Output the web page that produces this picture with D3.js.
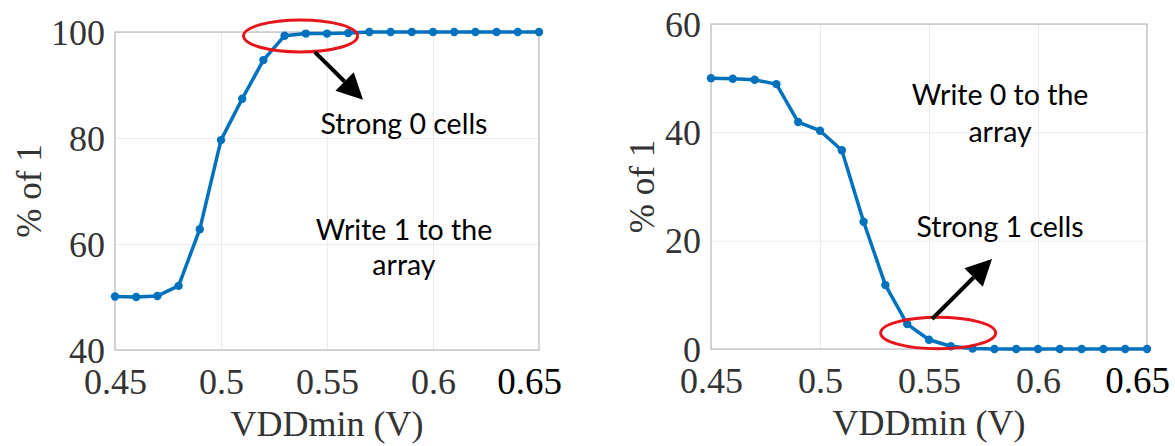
<!DOCTYPE html>
<html>
<head>
<meta charset="utf-8">
<script src="https://cdn.jsdelivr.net/npm/d3@7"></script>
<style>
   body { margin: 0; background: #fff; }
   svg { display: block; }
</style>
</head>
<body>
<svg id="chart" width="1175" height="446"></svg>
<script>

// VALUES
var vdd = [0.45, 0.46, 0.47, 0.48, 0.49, 0.50, 0.51, 0.52, 0.53, 0.54, 0.55,
           0.56, 0.57, 0.58, 0.59, 0.60, 0.61, 0.62, 0.63, 0.64, 0.65];
var write1Pct = [50.1, 50.0, 50.2, 52.1, 62.8, 79.6, 87.4, 94.7, 99.3, 99.7, 99.7,
                 99.8, 100, 100, 100, 100, 100, 100, 100, 100, 100];
var write0Pct = [50.0, 49.9, 49.7, 48.9, 41.9, 40.3, 36.7, 23.5, 11.8, 4.6, 1.7,
                 0.5, 0.1, 0, 0, 0, 0, 0, 0, 0, 0];
var xTicks = [0.45, 0.5, 0.55, 0.6, 0.65];
var xTickLabels = ['0.45', '0.5', '0.55', '0.6', '0.65'];
var write1YTicks = [40, 60, 80, 100];
var write0YTicks = [0, 20, 40, 60];
var xLabel = 'VDDmin (V)';
var yLabel = '% of 1';

// SHARED LOOK
var look = {
   blue: '#0072bd',
   red: '#e8141b',
   grid: '#ebebeb',
   box: '#bcbcbc',
   tickText: '#333',
   serif: '"Liberation Serif", "Times New Roman", serif',
   sans: 'Lato, "Open Sans", sans-serif'
}

// DRAW ONE PANEL
function panel(svg, values, settings) {

   var width = settings.right - settings.left;
   var height = settings.bottom - settings.top;

   // X-SCALING
   var xScale = d3.scaleLinear()
      .domain([0.45, 0.65])
      .range([0, width])

   // Y-SCALING
   var yScale = d3.scaleLinear()
      .domain(settings.yDomain)
      .range([height, 0])

   var g = svg.append('g')
      .attr('transform', 'translate(' + settings.left + ',' + settings.top + ')')

   // GRID
   g.append('g')
      .attr('transform', 'translate(0,' + height + ')')
      .call(d3.axisBottom(xScale).tickValues(xTicks).tickSize(-height).tickFormat(''))
      .call(a => a.select('.domain').remove())
      .selectAll('line').attr('stroke', look.grid)

   g.append('g')
      .call(d3.axisLeft(yScale).tickValues(settings.yTicks).tickSize(-width).tickFormat(''))
      .call(a => a.select('.domain').remove())
      .selectAll('line').attr('stroke', look.grid)

   // BOX
   g.append('rect')
      .attr('width', width)
      .attr('height', height)
      .attr('fill', 'none')
      .attr('stroke', look.box)
      .attr('stroke-width', 1.2)

   // X TICK LABELS
   var xAxis = g.append('g')
      .attr('transform', 'translate(0,' + height + ')')
      .call(d3.axisBottom(xScale).tickValues(xTicks).tickSize(0).tickPadding(0)
         .tickFormat((d, i) => xTickLabels[i]))
   xAxis.select('.domain').remove()
   xAxis.selectAll('text')
      .attr('y', 44).attr('dy', 0)
      .attr('font-family', look.serif)
      .attr('font-size', 36)
      .attr('fill', look.tickText)
   xAxis.selectAll('text').filter((d, i) => i === xTicks.length - 1)
      .attr('fill', '#000')
      .attr('font-size', 37)
      .attr('dx', -10)

   // Y TICK LABELS
   var yAxis = g.append('g')
      .call(d3.axisLeft(yScale).tickValues(settings.yTicks).tickSize(0).tickPadding(10))
   yAxis.select('.domain').remove()
   yAxis.selectAll('text')
      .attr('dy', '0.34em')
      .attr('font-family', look.serif)
      .attr('font-size', 36)
      .attr('fill', look.tickText)

   // AXIS TITLES
   g.append('text')
      .attr('x', width / 2)
      .attr('y', height + 86)
      .attr('text-anchor', 'middle')
      .attr('font-family', look.serif)
      .attr('font-size', 36)
      .attr('fill', look.tickText)
      .text(xLabel)

   g.append('text')
      .attr('transform', 'translate(' + settings.yLabelX + ',' + height / 2 + ') rotate(-90)')
      .attr('text-anchor', 'middle')
      .attr('font-family', look.serif)
      .attr('font-size', 35)
      .attr('fill', look.tickText)
      .text(yLabel)

   // LINE
   var pathify = d3.line()
      .x((d, i) => xScale(vdd[i]))
      .y((d) => yScale(d))

   g.append('path')
      .attr('fill', 'none')
      .attr('stroke', look.blue)
      .attr('stroke-width', 3.5)
      .attr('stroke-linejoin', 'round')
      .attr('d', pathify(values))

   // DOTS
   g.selectAll('circle.dot')
      .data(values)
         .enter().append('circle')
            .attr('class', 'dot')
            .attr('cx', (d, i) => xScale(vdd[i]))
            .attr('cy', (d) => yScale(d))
            .attr('r', 4.2)
            .attr('fill', look.blue)

   // NOTES
   settings.notes.forEach(n => {
      g.append('text')
         .attr('x', xScale(n.x))
         .attr('y', yScale(n.y))
         .attr('text-anchor', 'middle')
         .attr('font-family', look.sans)
         .attr('font-size', 28.5)
         .attr('fill', '#000')
         .text(n.text)
   })

   // ELLIPSE
   var e = settings.ellipse;
   g.append('ellipse')
      .attr('cx', xScale(e.x))
      .attr('cy', yScale(e.y))
      .attr('rx', e.rx)
      .attr('ry', e.ry)
      .attr('fill', 'none')
      .attr('stroke', look.red)
      .attr('stroke-width', 3)

   // ARROW
   var a = settings.arrow;
   var x0 = xScale(a.from[0]), y0 = yScale(a.from[1]);
   var x1 = xScale(a.to[0]), y1 = yScale(a.to[1]);
   var ang = Math.atan2(y1 - y0, x1 - x0);
   var headLen = 26, headHalf = 13;
   var bx = x1 - headLen * Math.cos(ang), by = y1 - headLen * Math.sin(ang);
   g.append('line')
      .attr('x1', x0).attr('y1', y0)
      .attr('x2', bx).attr('y2', by)
      .attr('stroke', '#000')
      .attr('stroke-width', 4)
   g.append('polygon')
      .attr('points', [
         [x1, y1],
         [bx + headHalf * Math.sin(ang), by - headHalf * Math.cos(ang)],
         [bx - headHalf * Math.sin(ang), by + headHalf * Math.cos(ang)]
      ].map(p => p.join(',')).join(' '))
      .attr('fill', '#000')
}

var svg = d3.select('#chart');

// LEFT PANEL -- WRITE 1
panel(svg, write1Pct, {
   left: 115, right: 539, top: 32, bottom: 350,
   yDomain: [40, 100],
   yTicks: write1YTicks,
   yLabelX: -74,
   notes: [
      { text: 'Strong 0 cells', x: 0.5863, y: 80.8 },
      { text: 'Write 1 to the', x: 0.5863, y: 60.75 },
      { text: 'array', x: 0.5863, y: 54.15 }
   ],
   ellipse: { x: 0.5375, y: 99.25, rx: 57, ry: 16 },
   arrow: { from: [0.5443, 96.2], to: [0.567, 87.2] }
})

// RIGHT PANEL -- WRITE 0
panel(svg, write0Pct, {
   left: 711, right: 1147, top: 24, bottom: 349,
   yDomain: [0, 60],
   yTicks: write0YTicks,
   yLabelX: -57,
   notes: [
      { text: 'Write 0 to the', x: 0.5826, y: 45.06 },
      { text: 'array', x: 0.5826, y: 38.3 },
      { text: 'Strong 1 cells', x: 0.5826, y: 20.7 }
   ],
   ellipse: { x: 0.5542, y: 2.95, rx: 57.5, ry: 15.7 },
   arrow: { from: [0.5514, 5.54], to: [0.5789, 16.6] }
})

</script>
</body>
</html>
